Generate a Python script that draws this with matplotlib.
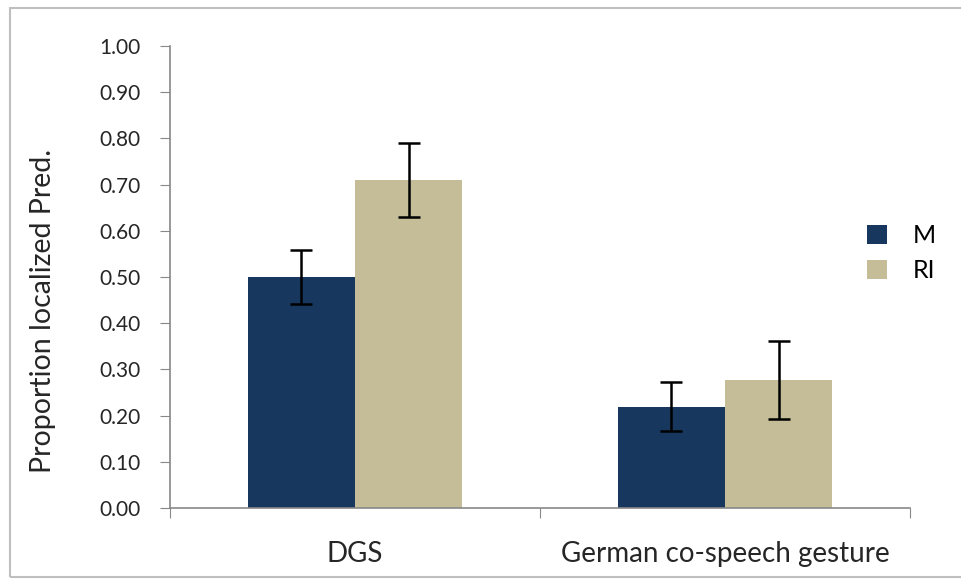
import numpy as np
import matplotlib.pyplot as plt
from matplotlib.patches import Rectangle

plt.rcParams['font.family'] = ['Lato', 'DejaVu Sans']

categories = ['DGS', 'German co-speech gesture']
series = ['M', 'RI']
values_m = [0.50, 0.219]
values_ri = [0.71, 0.277]
err_m = [0.058, 0.053]
err_ri = [0.081, 0.085]
colors = ['#17375E', '#C4BD97']

fig = plt.figure(figsize=(9.62, 5.83), dpi=100)
ax = fig.add_axes([170 / 962, 75 / 583, 740 / 962, 462 / 583])

# outer grey frame like the Excel chart area
fig.patches.append(Rectangle((10 / 962, 6 / 583), 960 / 962, 569 / 583,
                             transform=fig.transFigure, fill=False,
                             edgecolor='#BFBFBF', linewidth=1.5))

x = np.arange(len(categories))
w = 0.29
ax.bar(x - w / 2, values_m, w, color=colors[0], label=series[0],
       yerr=err_m, capsize=8, error_kw=dict(ecolor='black', elinewidth=1.8, capthick=1.8))
ax.bar(x + w / 2, values_ri, w, color=colors[1], label=series[1],
       yerr=err_ri, capsize=8, error_kw=dict(ecolor='black', elinewidth=1.8, capthick=1.8))

ax.set_xlim(-0.5, 1.5)
ax.set_ylim(0, 1.0)
ax.set_yticks(np.arange(0, 1.01, 0.1))
ax.set_yticklabels(['%.2f' % v for v in np.arange(0, 1.01, 0.1)], fontsize=15, color='#262626')
ax.set_xticks([-0.5, 0.5, 1.5])
ax.set_xticklabels([])
ax.set_xticks(x, minor=True)
ax.set_xticklabels(categories, minor=True, fontsize=20, color='#262626')
ax.tick_params(axis='x', which='minor', length=0, pad=24)
ax.tick_params(axis='x', which='major', length=7, direction='out', color='#888888')
ax.tick_params(axis='y', length=7, direction='out', color='#888888', pad=14)

for s in ['top', 'right']:
    ax.spines[s].set_visible(False)
for s in ['left', 'bottom']:
    ax.spines[s].set_color('#888888')
    ax.spines[s].set_linewidth(1.2)

ax.set_ylabel('Proportion localized Pred.', fontsize=20.5, color='#262626')
ax.yaxis.set_label_coords((56 - 170) / 740, 0.5 - (311 - 277) / 462)

fig.legend(loc='center left', bbox_to_anchor=(845 / 962, 1 - 253 / 583), frameon=False,
           fontsize=18, handlelength=0.8, handleheight=0.8, labelspacing=0.5,
           handletextpad=1.0)

plt.savefig('out.png')
